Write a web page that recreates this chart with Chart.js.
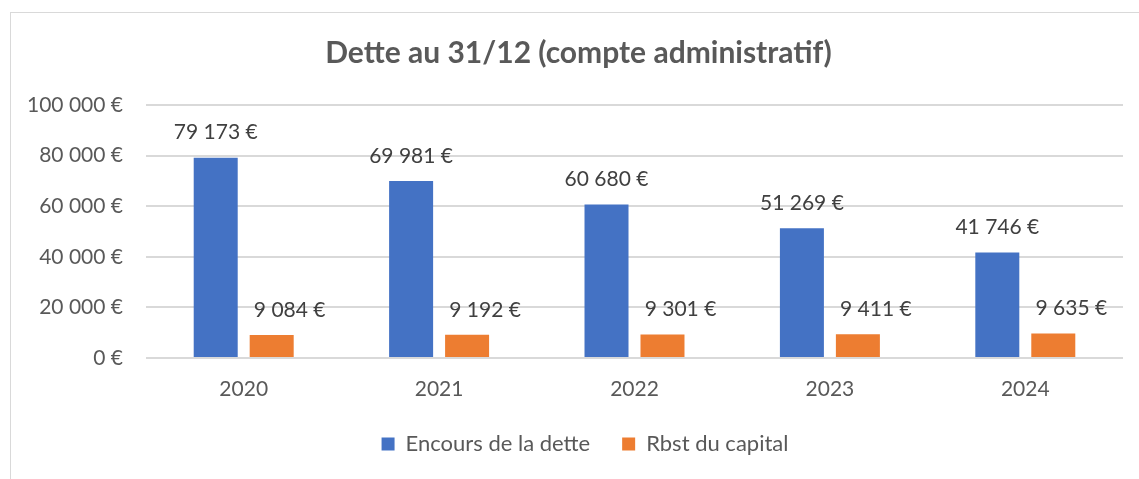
<!DOCTYPE html>
<html>
<head>
<meta charset="utf-8">
<script src="https://cdn.jsdelivr.net/npm/chart.js@4"></script>
<style>
  html,body{margin:0;padding:0;background:#fff;overflow:hidden;}
  #frame{position:absolute;left:10px;top:12px;width:1300px;height:600px;border:1px solid #d9d9d9;}
  #chart{position:absolute;left:0;top:0;}
</style>
</head>
<body>
<div id="frame"></div>
<canvas id="chart" width="1139" height="479"></canvas>
<script>
const years = ['2020','2021','2022','2023','2024'];
const encours = [79173, 69981, 60680, 51269, 41746];
const rbst = [9084, 9192, 9301, 9411, 9635];
const yTicks = [0, 20000, 40000, 60000, 80000, 100000];

const FONT = 'Lato';
function euro(v){
  return String(v).replace(/\B(?=(\d{3})+(?!\d))/g,' ') + ' €';
}

// labels above the bars (orange ones sit a bit to the right, like in excel)
const barLabels = {
  id:'barLabels',
  afterDatasetsDraw(chart){
    const ctx = chart.ctx;
    ctx.save();
    ctx.font = '21px ' + FONT;
    ctx.fillStyle = '#404040';
    ctx.textAlign = 'center';
    ctx.textBaseline = 'middle';
    chart.data.datasets.forEach((ds,i)=>{
      const meta = chart.getDatasetMeta(i);
      meta.data.forEach((bar,j)=>{
        const dx = i===1 ? 18 : 0;
        ctx.fillText(euro(ds.data[j]), bar.x + dx, bar.y - 25);
      });
    });
    ctx.restore();
  }
};

// title and legend are centred a bit right of the canvas middle in the original
const nudge = {
  id:'nudge',
  afterLayout(chart){
    if(chart.titleBlock) chart.titleBlock.left += 34;
    if(chart.legend) chart.legend.left += 47;
  }
};

new Chart(document.getElementById('chart'), {
  type:'bar',
  data:{
    labels: years,
    datasets:[
      {label:'Encours de la dette', data:encours, backgroundColor:'#4472C4'},
      {label:'Rbst du capital', data:rbst, backgroundColor:'#ED7D31'}
    ]
  },
  options:{
    responsive:false,
    animation:false,
    categoryPercentage:0.573,
    barPercentage:0.786,
    layout:{padding:{left:0,right:16,top:0,bottom:14}},
    plugins:{
      tooltip:{enabled:false},
      title:{
        display:true,
        text:'Dette au 31/12 (compte administratif)',
        color:'#595959',
        font:{family:FONT,size:30,weight:'bold'},
        padding:{top:35,bottom:34}
      },
      legend:{
        position:'bottom',
        labels:{
          color:'#595959',
          font:{family:FONT,size:22},
          boxWidth:13, boxHeight:13,
          padding:32
        }
      }
    },
    scales:{
      x:{
        afterFit(scale){ scale.height = 43; },
        grid:{display:false, drawTicks:false},
        border:{display:false},
        ticks:{color:'#595959', font:{family:FONT,size:21}, padding:19}
      },
      y:{
        min:0, max:100000,
        afterFit(scale){ scale.width = 146; },
        afterBuildTicks(scale){ scale.ticks = yTicks.map(v=>({value:v})); },
        grid:{color:'#d9d9d9', lineWidth:2, drawTicks:false},
        border:{display:false},
        ticks:{color:'#595959', font:{family:FONT,size:21}, padding:23, callback:v=>euro(v)}
      }
    }
  },
  plugins:[barLabels, nudge]
});
</script>
</body>
</html>
